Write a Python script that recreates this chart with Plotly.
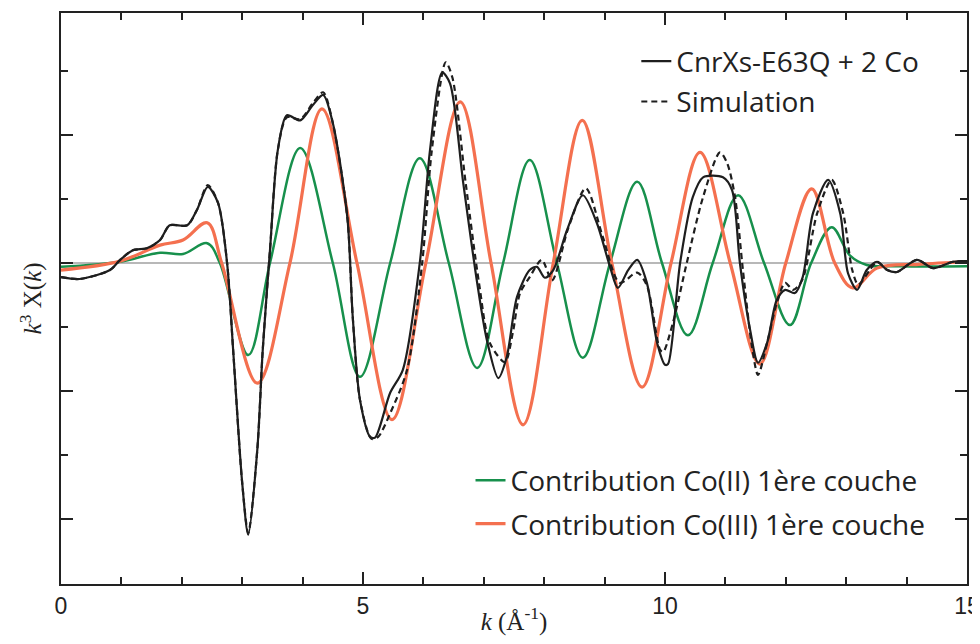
import plotly.graph_objects as go

# ---- data (k in Å^-1, k^3 chi(k) in arbitrary units) ----
k_exp = [0.0, 0.31, 0.81, 0.98, 1.19, 1.42, 1.64, 1.80, 2.09, 2.25, 2.43, 2.60, 2.75, 2.85, 3.00, 3.10,
         3.25, 3.34, 3.46, 3.59, 3.74, 3.96, 4.17, 4.34, 4.50, 4.74, 4.83, 4.95, 5.12, 5.20, 5.45, 5.66,
         5.94, 6.11, 6.31, 6.44, 6.66, 6.89, 7.05, 7.24, 7.38, 7.55, 7.76, 7.88, 8.01, 8.15, 8.38, 8.64,
         8.87, 9.09, 9.22, 9.39, 9.54, 9.70, 9.87, 10.00, 10.05, 10.25, 10.46, 10.63, 10.96, 11.11, 11.24,
         11.41, 11.54, 11.69, 11.85, 11.99, 12.15, 12.28, 12.45, 12.70, 12.90, 13.03, 13.18, 13.34, 13.51,
         13.68, 13.84, 14.17, 14.44, 14.77, 15.0]
y_exp = [-0.22, -0.25, -0.11, 0.05, 0.20, 0.23, 0.36, 0.59, 0.59, 0.83, 1.19, 0.94, 0.0, -1.36, -3.44, -4.25,
         -2.92, -1.36, 0.20, 1.77, 2.31, 2.23, 2.47, 2.63, 2.19, 0.72, -0.84, -2.14, -2.72, -2.73, -2.03, -1.67,
         0.0, 1.77, 2.98, 2.81, 1.25, -0.31, -1.20, -1.80, -1.47, -0.53, -0.11, -0.06, -0.23, -0.11, 0.52, 1.06,
         0.63, -0.06, -0.39, -0.11, 0.05, -0.31, -1.25, -1.59, -1.58, 0.0, 1.03, 1.34, 1.34, 1.14, 0.0,
         -1.05, -1.56, -1.25, -0.58, -0.42, -0.47, -0.22, 0.78, 1.30, 0.78, -0.16, -0.42, -0.11, 0.02,
         -0.11, -0.14, 0.05, -0.08, 0.02, 0.03]

k_sim = [0.0, 0.31, 0.81, 0.98, 1.19, 1.42, 1.64, 1.80, 2.09, 2.25, 2.43, 2.60, 2.75, 2.85, 3.00, 3.10,
         3.25, 3.34, 3.46, 3.59, 3.74, 3.96, 4.17, 4.34, 4.50, 4.74, 4.83, 4.95, 5.14, 5.25, 5.45, 5.73,
         5.98, 6.14, 6.37, 6.48, 6.70, 6.92, 7.10, 7.35, 7.48, 7.60, 7.76, 7.96, 8.13, 8.40, 8.69,
         8.97, 9.25, 9.54, 9.70, 9.92, 9.97, 10.13, 10.36, 10.63, 10.91, 11.03, 11.16, 11.29,
         11.44, 11.54, 11.69, 11.85, 11.99, 12.12, 12.27, 12.52, 12.76, 12.95, 13.10, 13.20, 13.39, 13.51,
         13.68, 13.84, 14.17, 14.44, 14.77, 15.0]
y_sim = [-0.22, -0.25, -0.11, 0.05, 0.20, 0.23, 0.36, 0.59, 0.59, 0.83, 1.22, 0.94, 0.0, -1.36, -3.44, -4.22,
         -2.92, -1.36, 0.20, 1.77, 2.28, 2.25, 2.50, 2.67, 2.19, 0.72, -0.84, -2.14, -2.75, -2.72, -2.35, -1.67,
         0.0, 1.77, 3.14, 2.90, 1.25, -0.31, -1.25, -1.55, -1.09, -0.47, -0.22, 0.05, -0.27, 0.55, 1.17,
         0.41, -0.31, -0.15, -0.35, -1.36, -1.39, -0.94, 0.0, 1.03, 1.73, 1.56, 1.03, -0.11,
         -1.31, -1.75, -1.25, -0.63, -0.31, -0.42, -0.27, 0.78, 1.30, 0.78, -0.11, -0.34, -0.11, 0.02,
         -0.11, -0.14, 0.05, -0.08, 0.02, 0.03]

k_co2 = [0.0, 0.98, 1.64, 2.02, 2.42, 2.63, 3.10, 3.46, 3.96, 4.50, 4.95, 5.45, 5.94, 6.42, 6.89, 7.32,
         7.76, 8.21, 8.64, 9.09, 9.54, 9.95, 10.38, 10.79, 11.21, 11.64, 12.07, 12.42, 12.76, 13.06,
         13.34, 13.89, 15.0]
y_co2 = [-0.06, 0.02, 0.16, 0.14, 0.31, 0.0, -1.44, 0.0, 1.80, 0.0, -1.78, 0.0, 1.64, 0.0, -1.64, 0.0,
         1.61, 0.0, -1.48, 0.0, 1.27, 0.0, -1.13, 0.0, 1.06, 0.0, -0.97, 0.0, 0.56, 0.12,
         -0.03, -0.05, -0.05]

k_co3 = [0.0, 0.98, 1.64, 2.02, 2.42, 2.66, 3.25, 3.79, 4.32, 4.90, 5.48, 6.04, 6.61, 7.12, 7.65, 8.15,
         8.63, 9.12, 9.62, 10.10, 10.58, 11.08, 11.57, 12.00, 12.43, 12.81, 13.11, 13.51, 14.2, 15.0]
y_co3 = [-0.11, 0.03, 0.28, 0.36, 0.63, 0.0, -1.88, 0.0, 2.41, 0.0, -2.45, 0.0, 2.52, 0.0, -2.53, 0.0,
         2.23, 0.0, -1.94, 0.0, 1.73, 0.0, -1.58, 0.0, 1.16, 0.0, -0.39, -0.08, -0.02, 0.02]

names = ["CnrXs-E63Q + 2 Co", "Simulation",
         "Contribution Co(II) 1ère couche", "Contribution Co(III) 1ère couche"]

GREEN = "#17904c"
ORANGE = "#f4704f"
BLACK = "#1e1e1e"

fig = go.Figure()
fig.add_trace(go.Scatter(x=k_co2, y=y_co2, mode="lines", name=names[2], legend="legend2", legendgroup="g2",
                         line=dict(color=GREEN, width=2.5, shape="spline", smoothing=1.0)))
fig.add_trace(go.Scatter(x=k_co3, y=y_co3, mode="lines", name=names[3], legend="legend2", legendgroup="g3",
                         line=dict(color=ORANGE, width=3.2, shape="spline", smoothing=1.0)))
fig.add_trace(go.Scatter(x=k_exp, y=y_exp, mode="lines", name=names[0], legend="legend", legendgroup="g0",
                         line=dict(color=BLACK, width=2.2, shape="spline", smoothing=0.8)))
fig.add_trace(go.Scatter(x=k_sim, y=y_sim, mode="lines", name=names[1], legend="legend", legendgroup="g1",
                         line=dict(color=BLACK, width=2.2, dash="6px,4px", shape="spline", smoothing=0.8)))

axis_common = dict(showline=True, linecolor="#222222", linewidth=2, mirror="ticks",
                   ticks="inside", tickcolor="#222222", tickwidth=2, showgrid=False,
                   automargin=False)

# the page body adds an 8px offset; the figure is sized so it fits the window without
# scrollbars and the plot area lands at x 61-967, y 13-584
fig.update_layout(
    width=972, height=628,
    margin=dict(l=53, r=13, t=5, b=52),
    paper_bgcolor="white", plot_bgcolor="white",
    font=dict(family="Open Sans", color="#222222"),
    xaxis=dict(range=[0, 15], tickvals=[0, 5, 10, 15], ticklen=12, ticklabeloverflow="allow",
               minor=dict(dtick=1, ticks="inside", ticklen=7, tickcolor="#222222", tickwidth=2),
               tickfont=dict(family="Liberation Sans", size=23, color="#222222"),
               title=dict(text="<i>k</i> (Å<sup>-1</sup>)", standoff=2,
                          font=dict(family="Liberation Serif", size=25, color="#222222")),
               zeroline=False, **axis_common),
    yaxis=dict(range=[-5.02, 3.91], tickvals=[-4, -2, 0, 2], ticklen=12, showticklabels=False,
               minor=dict(tickvals=[-3, -1, 1, 3], ticks="inside", ticklen=7, tickcolor="#222222", tickwidth=2),
               title=dict(text="<i>k</i><sup>3</sup> Χ(<i>k</i>)", standoff=10,
                          font=dict(family="Liberation Serif", size=25, color="#222222")),
               zeroline=True, zerolinecolor="#b8b8b8", zerolinewidth=2, **axis_common),
    legend=dict(x=0.635, y=0.959, xanchor="left", yanchor="top", bgcolor="rgba(0,0,0,0)",
                font=dict(family="Open Sans", size=28, color="#222222"),
                tracegroupgap=1),
    legend2=dict(x=0.452, y=0.225, xanchor="left", yanchor="top", bgcolor="rgba(0,0,0,0)",
                 font=dict(family="Open Sans", size=28, color="#222222"),
                 tracegroupgap=4),
)

fig.write_html("out.html")
